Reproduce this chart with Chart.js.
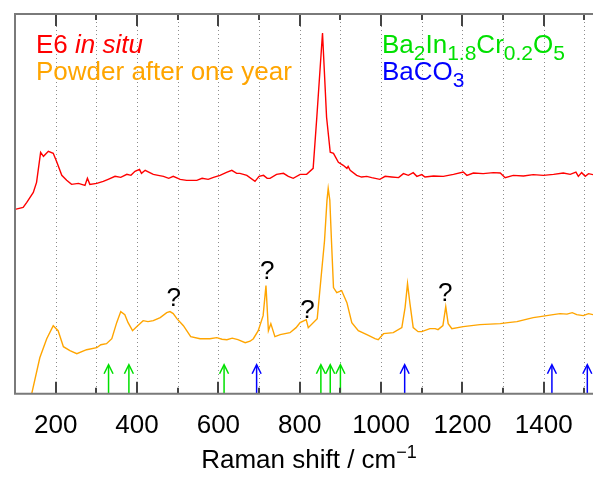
<!DOCTYPE html>
<html><head><meta charset="utf-8">
<script src="https://cdn.jsdelivr.net/npm/chart.js@4/dist/chart.umd.min.js"></script>
<style>html,body{margin:0;padding:0;background:#fff;overflow:hidden}</style>
</head><body>
<canvas id="c" width="593" height="480"></canvas>
<script>
// ---- data (Raman shift in cm^-1, intensity in arbitrary units) ----
const insituX = [100,120,129,145,153,163,170,182,194,203,215,227,239,256,272,278,284,301,317,329,346,360,375,385,395,406,411,420,430,440,452,465,478,489,506,522,547,560,575,588,604,620,633,645,653,670,690,700,711,720,727,743,760,772,784,801,817,833,842,856,866,875,883,895,907,916,919,924,940,952,965,977,997,1010,1026,1043,1055,1067,1079,1088,1100,1108,1129,1153,1178,1202,1211,1227,1251,1276,1293,1305,1325,1350,1374,1399,1424,1448,1465,1479,1485,1493,1502,1510,1521];
const insituY = [184,186,191,201,211,241,237,242,240,231,218,213,209,210,208,215,209,210,212,214,217,216,219,218,222,224,220,223,221,219,218,217,215,217,214,213,213,215,214,216,218,221,223,220,220,218,212,217,218,215,215,219,220,217,215,219,219,225,276,360,276,241,240,231,228,225,227,223,218,216.3,217,215.7,214,217,216.3,215.7,219.7,218,220.7,217,218.7,216.3,217.3,217,219,221.3,218,220.3,219.7,220.7,220.3,215.7,218,217.3,218.7,218,219,220.3,219,221.3,217,220.7,217,219.7,218.7];
const powderX = [130,141,161,178,194,206,219,235,252,276,301,311,325,338,350,360,370,378,389,399,415,427,440,457,473,481,489,498,514,532,555,579,596,609,621,634,648,666,678,686,698,710,717,723,729,739,752,776,791,801,816,821,843,852,861,867,870,874,878,883,891,903,916,928,944,965,985,993,1006,1030,1051,1059,1065,1071,1079,1091,1100,1120,1133,1140,1152,1159,1165,1174,1202,1243,1268,1293,1312,1334,1354,1374,1391,1407,1423,1440,1457,1470,1481,1497,1510,1521];
const powderY = [-20,0,36,55,68,63,47,43,40,44,46,49,50,55,71,82,79,71,63,67,73,72,73,76,81,82,80,75,68,57,55,55,56,54.5,54,55.5,54,51,52.5,55,63,78,108,63,70,57,59,61,66,71,74,66,75,114,153,193,205,193,153,106,101,103,91,71,63,59,55,54,60,61,66,86,110,90,66,62,62,65,65,64,68,87,70,65,67,69,69.5,70,71,72,74,76,77,78,79,80,79.5,81,79,78,80,79];
const perovskiteArrows = [330,380,614,852,875,900];   // Ba2In1.8Cr0.2O5
const carbonateArrows  = [694,1058,1420,1507];        // BaCO3
const arrowHeight = 29;
const unknownX = [490,720,819,1158];
const unknownY = [94.5,122,83,100];
const majorTicks = [200,400,600,800,1000,1200,1400];
const minorTicks = [300,500,700,900,1100,1300,1500];

const FONT = "'Liberation Sans', Arial, sans-serif";
const RED = '#ff0000', ORANGE = '#ffa500', GREEN = '#00e000', BLUE = '#0000ff';

function pts(xs, ys){ return xs.map((x,i)=>({x:x, y:ys[i]})); }

function drawRuns(ctx, x, baseline, runs, color){
  ctx.save();
  ctx.fillStyle = color; ctx.textBaseline = 'alphabetic'; ctx.textAlign = 'left';
  for (const r of runs){
    ctx.font = r.font;
    ctx.fillText(r.t, x, baseline + (r.dy||0));
    x += ctx.measureText(r.t).width;
  }
  ctx.restore();
}
function runsWidth(ctx, runs){
  let w = 0; ctx.save();
  for (const r of runs){ ctx.font = r.font; w += ctx.measureText(r.t).width; }
  ctx.restore(); return w;
}

const decor = {
  id:'decor',
  beforeDatasetsDraw(chart){
    const {ctx, chartArea:a, scales:{x}} = chart;
    ctx.save();
    ctx.strokeStyle = 'rgba(0,0,0,0.45)'; ctx.lineWidth = 1; ctx.setLineDash([1,3]);
    for (const v of majorTicks.concat(minorTicks)){
      const px = Math.round(x.getPixelForValue(v)) + 0.5;
      ctx.beginPath(); ctx.moveTo(px, a.top); ctx.lineTo(px, a.bottom); ctx.stroke();
    }
    ctx.restore();
  },
  afterDatasetsDraw(chart){
    const {ctx, chartArea:a, scales:{x, y}} = chart;
    ctx.save();
    const drawArrow = (v, col) => {
      const px = x.getPixelForValue(v);
      const y0 = y.getPixelForValue(0), y1 = y.getPixelForValue(arrowHeight);
      ctx.strokeStyle = col; ctx.lineWidth = 1.5;
      ctx.beginPath(); ctx.moveTo(px, y0); ctx.lineTo(px, y1 + 1); ctx.stroke();
      ctx.beginPath(); ctx.moveTo(px - 4.5, y1 + 9); ctx.lineTo(px, y1); ctx.lineTo(px + 4.5, y1 + 9); ctx.stroke();
    };
    perovskiteArrows.forEach(v => drawArrow(v, GREEN));
    carbonateArrows.forEach(v => drawArrow(v, BLUE));
    ctx.strokeStyle = '#444'; ctx.lineWidth = 2;
    const tick = (v, len) => {
      const px = Math.round(x.getPixelForValue(v));
      ctx.beginPath(); ctx.moveTo(px, a.bottom); ctx.lineTo(px, a.bottom - len); ctx.stroke();
      ctx.beginPath(); ctx.moveTo(px, a.top); ctx.lineTo(px, a.top + len); ctx.stroke();
    };
    majorTicks.forEach(v => tick(v, 12));
    minorTicks.forEach(v => tick(v, 6));
    ctx.strokeStyle = '#7a7a7a'; ctx.lineWidth = 2;
    ctx.beginPath();
    ctx.moveTo(a.right, a.top); ctx.lineTo(a.left, a.top); ctx.lineTo(a.left, a.bottom); ctx.lineTo(a.right, a.bottom);
    ctx.stroke();
    ctx.restore();
  },
  afterDraw(chart){
    const {ctx, chartArea:a, scales:{x, y}} = chart;
    ctx.save();
    ctx.fillStyle = '#000'; ctx.font = '26px ' + FONT; ctx.textAlign = 'center'; ctx.textBaseline = 'middle';
    unknownX.forEach((v,i) => ctx.fillText('?', x.getPixelForValue(v), y.getPixelForValue(unknownY[i])));
    ctx.restore();
    const big = '26px ' + FONT, small = '21px ' + FONT;
    drawRuns(ctx, a.left + 21, a.top + 39, [{t:'E6 ', font:big},{t:'in situ', font:'italic '+big}], RED);
    drawRuns(ctx, a.left + 21, a.top + 66, [{t:'Powder after one year', font:big}], ORANGE);
    drawRuns(ctx, a.left + 367, a.top + 39, [
      {t:'Ba',font:big},{t:'2',font:small,dy:7},{t:'In',font:big},{t:'1.8',font:small,dy:7},
      {t:'Cr',font:big},{t:'0.2',font:small,dy:7},{t:'O',font:big},{t:'5',font:small,dy:7}], GREEN);
    drawRuns(ctx, a.left + 367, a.top + 66, [{t:'BaCO',font:big},{t:'3',font:small,dy:7}], BLUE);
    const title = [{t:'Raman shift / cm',font:big},{t:'\u22121',font:'18px '+FONT,dy:-10}];
    const w = runsWidth(ctx, title);
    drawRuns(ctx, (a.left + a.right)/2 + 5 - w/2, 468, title, '#000');
  }
};

new Chart(document.getElementById('c'), {
  type:'line',
  data:{ datasets:[
    {label:'E6 in situ', data:pts(insituX, insituY), borderColor:RED, borderWidth:1.4, pointRadius:0, tension:0, fill:false},
    {label:'Powder after one year', data:pts(powderX, powderY), borderColor:ORANGE, borderWidth:1.4, pointRadius:0, tension:0, fill:false}
  ]},
  options:{
    responsive:false, animation:false, devicePixelRatio:1,
    layout:{padding:{left:15, top:14, right:0, bottom:23}},
    plugins:{legend:{display:false}, tooltip:{enabled:false}},
    scales:{
      x:{type:'linear', min:100, max:1521,
         afterBuildTicks: s => { s.ticks = majorTicks.map(v => ({value:v})); },
         ticks:{font:{family:FONT, size:26}, color:'#000', padding:16, autoSkip:false, maxRotation:0,
                callback: v => String(v)},
         grid:{display:false, drawTicks:false}, border:{display:false}},
      y:{display:false, min:0, max:379}
    }
  },
  plugins:[decor]
});
</script>
</body></html>
